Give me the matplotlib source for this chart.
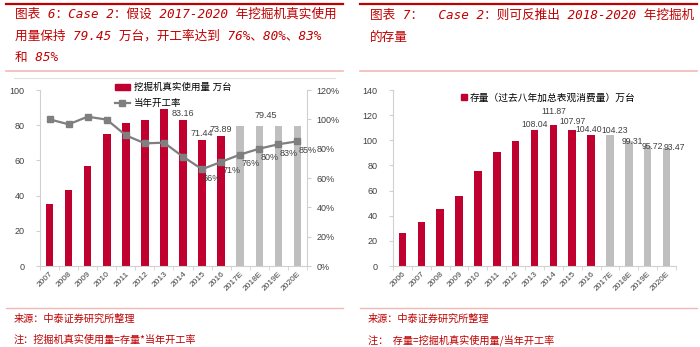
import numpy as np
import matplotlib.pyplot as plt
from matplotlib.lines import Line2D
from matplotlib.patches import Patch

plt.rcParams['font.family'] = ['Liberation Sans', 'Noto Sans CJK SC']

# left panel: actual excavator usage (10k units) and yearly utilisation rate
years_l = ['2007', '2008', '2009', '2010', '2011', '2012', '2013', '2014',
           '2015', '2016', '2017E', '2018E', '2019E', '2020E']
usage = [35.0, 43.0, 56.8, 75.0, 81.0, 83.0, 89.4, 83.16,
         71.44, 73.89, 79.45, 79.45, 79.45, 79.45]
rate = [1.00, 0.966, 1.018, 0.998, 0.891, 0.836, 0.841, 0.745,
        0.66, 0.71, 0.76, 0.80, 0.83, 0.85]
usage_labels = {7: '83.16', 8: '71.44', 9: '73.89', 11: '79.45'}
rate_labels = {8: '66%', 9: '71%', 10: '76%', 11: '80%', 12: '83%', 13: '85%'}

# right panel: implied stock (sum of last eight years of apparent sales)
years_r = ['2006', '2007', '2008', '2009', '2010', '2011', '2012', '2013',
           '2014', '2015', '2016', '2017E', '2018E', '2019E', '2020E']
stock = [26.4, 35.1, 45.4, 56.0, 75.5, 90.9, 99.6, 108.04,
         111.87, 107.97, 104.40, 104.23, 99.31, 95.72, 93.47]
stock_labels = {7: '108.04', 8: '111.87', 9: '107.97', 10: '104.40',
                11: '104.23', 12: '99.31', 13: '95.72', 14: '93.47'}

RED = '#C0002F'
GREY_BAR = '#BFBFBF'
LINE = '#7F7F7F'
AXIS = '#D0D0D0'
TXT = '#404040'
TITLE_RED = '#C00000'

W, H = 700, 347
fig = plt.figure(figsize=(7, 3.47), dpi=100)


def px(x0, y0, x1, y1):
    return [x0 / W, 1 - y1 / H, (x1 - x0) / W, (y1 - y0) / H]


def hline(x0, x1, y, color, lw):
    fig.add_artist(Line2D([x0 / W, x1 / W], [1 - y / H, 1 - y / H],
                          color=color, lw=lw, transform=fig.transFigure))


def style_axis(ax, n):
    ax.set_xlim(-0.5, n - 0.5)
    ax.set_xticks(range(n))
    ax.set_xticks(np.arange(n + 1) - 0.5, minor=True)
    ax.tick_params(axis='x', which='major', length=0, pad=3)
    ax.tick_params(axis='x', which='minor', length=3, color=AXIS)
    ax.tick_params(axis='y', length=3, color=AXIS, labelsize=6.5,
                   labelcolor=TXT, pad=8)
    for s in ['top', 'right']:
        ax.spines[s].set_visible(False)
    for s in ['left', 'bottom']:
        ax.spines[s].set_color(AXIS)
        ax.spines[s].set_linewidth(0.8)


# frame lines and titles
title_kw = dict(color=TITLE_RED, fontsize=9.1, fontstyle='italic',
                family=['DejaVu Sans Mono', 'Noto Sans CJK SC'], va='center')
foot_kw = dict(color=TITLE_RED, fontsize=7.3, family=['Noto Sans CJK SC'],
               va='center')
for x0, x1 in [(6, 343), (360, 697)]:
    hline(x0, x1, 3.5, '#C00000', 1.6)
    hline(x0, x1, 71, '#F2B8B8', 1.2)
    hline(x0, x1, 307.5, '#F2B8B8', 1.0)
hline(14, 335, 78, '#E0E0E0', 0.8)

fig.text(15 / W, 1 - 14 / H, '图表 6：Case 2：假设 2017-2020 年挖掘机真实使用', **title_kw)
fig.text(15 / W, 1 - 36 / H, '用量保持 79.45 万台，开工率达到 76%、80%、83%', **title_kw)
fig.text(15 / W, 1 - 58 / H, '和 85%', **title_kw)
fig.text(370 / W, 1 - 15 / H, '图表 7：  Case 2：则可反推出 2018-2020 年挖掘机', **title_kw)
fig.text(370 / W, 1 - 38 / H, '的存量', **title_kw)

fig.text(14 / W, 1 - 319 / H, '来源：中泰证券研究所整理', **foot_kw)
fig.text(14 / W, 1 - 340 / H, '注：挖掘机真实使用量=存量*当年开工率', **foot_kw)
fig.text(368 / W, 1 - 319 / H, '来源：中泰证券研究所整理', **foot_kw)
fig.text(368 / W, 1 - 340 / H, '注：  存量=挖掘机真实使用量/当年开工率', **foot_kw)

# left chart
ax1 = fig.add_axes(px(40, 90, 307, 266))
n1 = len(years_l)
x1 = np.arange(n1)
colors_l = [RED if not y.endswith('E') else GREY_BAR for y in years_l]
ax1.bar(x1, usage, width=0.4, color=colors_l, zorder=2)
ax1.set_ylim(0, 100)
ax1.set_yticks(range(0, 101, 20))
style_axis(ax1, n1)
ax1.set_xticklabels(years_l, rotation=45, ha='right', rotation_mode='anchor',
                    fontsize=6, color=TXT)
for i, t in usage_labels.items():
    ax1.annotate(t, (i + (0.35 if i == 11 else 0), usage[i]),
                 xytext=(0, 6 if i == 11 else 2), textcoords='offset pixels',
                 ha='center', va='bottom', fontsize=6.5, color=TXT)

ax1r = ax1.twinx()
ax1r.plot(x1, rate, color=LINE, lw=1.6, marker='s', markersize=4.2, zorder=3)
ax1r.set_ylim(0, 1.2)
ax1r.set_yticks(np.arange(0, 1.21, 0.2))
ax1r.set_yticklabels([f'{int(round(v * 100))}%' for v in np.arange(0, 1.21, 0.2)])
ax1r.tick_params(axis='y', length=3, color=AXIS, labelsize=6.5,
                 labelcolor=TXT, pad=4)
for s in ['top', 'left', 'bottom']:
    ax1r.spines[s].set_visible(False)
ax1r.spines['right'].set_color(AXIS)
ax1r.spines['right'].set_linewidth(0.8)
for i, t in rate_labels.items():
    ax1r.annotate(t, (i, rate[i]), xytext=(10, -9), textcoords='offset pixels',
                  ha='center', va='center', fontsize=6.5, color=TXT)

fig.legend(handles=[Patch(color=RED, label='挖掘机真实使用量 万台'),
                    Line2D([], [], color=LINE, lw=1.6, marker='s',
                           markersize=4.2, label='当年开工率')],
           loc='upper left', bbox_to_anchor=(110 / W, 1 - 78 / H),
           frameon=False, fontsize=6.8, borderpad=0, handlelength=1.6,
           handleheight=0.6, handletextpad=0.4, labelspacing=0.75)

# right chart
ax2 = fig.add_axes(px(393, 90, 676, 266))
n2 = len(years_r)
x2 = np.arange(n2)
colors_r = [RED if not y.endswith('E') else GREY_BAR for y in years_r]
ax2.bar(x2, stock, width=0.4, color=colors_r, zorder=2)
ax2.set_ylim(0, 140)
ax2.set_yticks(range(0, 141, 20))
style_axis(ax2, n2)
ax2.set_xticklabels(years_r, rotation=45, ha='right', rotation_mode='anchor',
                    fontsize=6, color=TXT)
label_dx = {7: 0, 8: 0, 9: 0, 10: -2, 11: 5, 12: 3, 13: 5, 14: 8}
label_dy = {7: 0, 8: 8, 9: 3, 10: 0, 11: -1, 12: -6, 13: -6, 14: -5}
for i, t in stock_labels.items():
    ax2.annotate(t, (i, stock[i]), xytext=(label_dx[i], label_dy[i] + 1),
                 textcoords='offset pixels', ha='center', va='bottom',
                 fontsize=6.2, color=TXT)

fig.legend(handles=[Line2D([], [], color=RED, marker='s', linestyle='none',
                           markersize=4, label='存量（过去八年加总表观消费量）万台')],
           loc='upper left', bbox_to_anchor=(456 / W, 1 - 88 / H),
           frameon=False, fontsize=7, borderpad=0, handlelength=0.6,
           handletextpad=0.3)

fig.savefig('out.png', dpi=100)
